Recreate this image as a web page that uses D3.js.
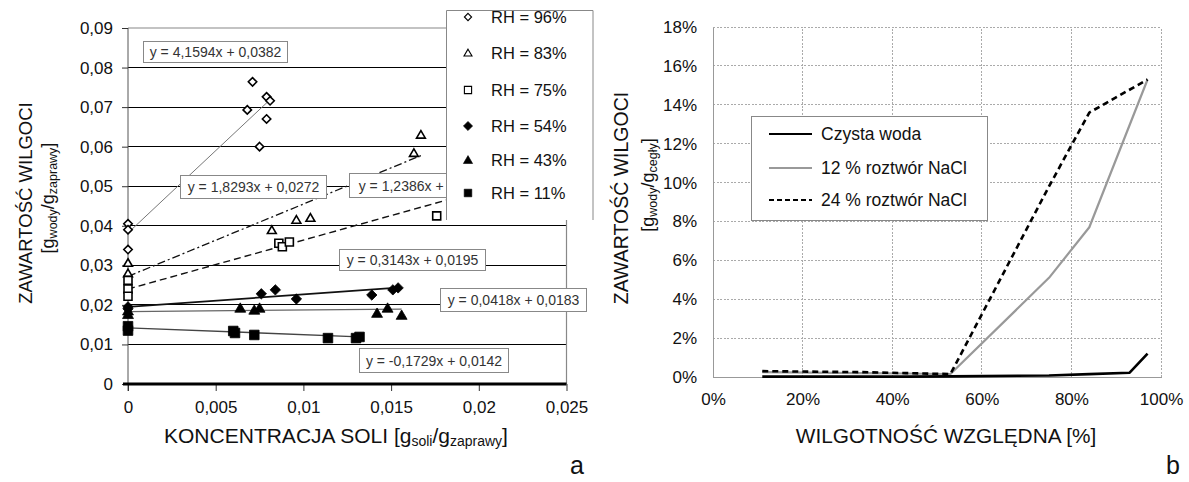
<!DOCTYPE html>
<html>
<head>
<meta charset="utf-8">
<script src="https://cdn.jsdelivr.net/npm/d3@7"></script>
<style>
  body { margin: 0; background: #fff; }
  svg { display: block; font-family: "Liberation Sans", Arial, sans-serif; }
</style>
</head>
<body>
<svg id="chart" width="1189" height="482"></svg>
<script>
// ---------- Panel a: moisture content vs. salt concentration ----------
const seriesNames = ["RH = 96%", "RH = 83%", "RH = 75%", "RH = 54%", "RH = 43%", "RH = 11%"];

// [salt concentration g/g, moisture content g/g]
const rh96 = [[0, 0.0405], [0, 0.0390], [0, 0.0340], [0.0068, 0.0693], [0.0071, 0.0764],
              [0.0075, 0.0600], [0.0079, 0.0726], [0.0079, 0.0670], [0.0081, 0.0716]];
const rh83 = [[0, 0.0306], [0, 0.0280], [0.0082, 0.0389], [0.0096, 0.0415], [0.0104, 0.0420],
              [0.0163, 0.0584], [0.0167, 0.0630]];
const rh75 = [[0, 0.0262], [0, 0.0240], [0, 0.0222], [0.0086, 0.0356], [0.0088, 0.0347],
              [0.0092, 0.0359], [0.0176, 0.0425]];
const rh54 = [[0, 0.0195], [0, 0.0190], [0.0076, 0.0228], [0.0084, 0.0238], [0.0096, 0.0215],
              [0.0139, 0.0225], [0.0151, 0.0238], [0.0154, 0.0243]];
const rh43 = [[0, 0.0185], [0, 0.0176], [0.0064, 0.0192], [0.0072, 0.0187], [0.0075, 0.0192],
              [0.0142, 0.0179], [0.0148, 0.0192], [0.0156, 0.0174]];
const rh11 = [[0, 0.0146], [0, 0.0135], [0.0060, 0.0134], [0.0061, 0.0129], [0.0072, 0.0124],
              [0.0114, 0.0116], [0.0130, 0.0116], [0.0132, 0.0119]];

// linear trend lines y = a*x + b, drawn from x = 0 to trendEnd
const trendSlope     = [4.1594, 1.8293, 1.2386, 0.3143, 0.0418, -0.1729];
const trendIntercept = [0.0382, 0.0272, 0.0240, 0.0195, 0.0183, 0.0142];
const trendEnd       = [0.0081, 0.0167, 0.0190, 0.0154, 0.0156, 0.0132];

const xTicksL = [0, 0.005, 0.01, 0.015, 0.02, 0.025];
const xTickLabelsL = ["0", "0,005", "0,01", "0,015", "0,02", "0,025"];
const yTicksL = [0, 0.01, 0.02, 0.03, 0.04, 0.05, 0.06, 0.07, 0.08, 0.09];
const yTickLabelsL = ["0", "0,01", "0,02", "0,03", "0,04", "0,05", "0,06", "0,07", "0,08", "0,09"];

// ---------- Panel b: moisture content vs. relative humidity ----------
const lineNames = ["Czysta woda", "12 % roztwór NaCl", "24 % roztwór NaCl"];
const wodaRH   = [11, 33, 43, 53, 75, 84, 93, 97];
const wodaMC   = [0.02, 0.02, 0.02, 0.03, 0.08, 0.15, 0.22, 1.2];
const nacl12RH = [11, 33, 43, 53, 75, 84, 97];
const nacl12MC = [0.25, 0.20, 0.18, 0.15, 5.1, 7.7, 15.3];
const nacl24RH = [11, 33, 43, 53, 75, 84, 97];
const nacl24MC = [0.30, 0.25, 0.20, 0.15, 9.8, 13.6, 15.3];

const xTicksR = [0, 20, 40, 60, 80, 100];
const yTicksR = [0, 2, 4, 6, 8, 10, 12, 14, 16, 18];

// ---------- drawing ----------
const svg = d3.select("#chart");
const FONT = "\"Liberation Sans\", Arial, sans-serif";

// custom marker shapes; "size" is used as half-width
const shapes = {
  diamond:  { draw(c, r) { c.moveTo(0, -r); c.lineTo(r, 0); c.lineTo(0, r); c.lineTo(-r, 0); c.closePath(); } },
  triangle: { draw(c, r) { c.moveTo(0, -r); c.lineTo(r * 1.05, r * 0.8); c.lineTo(-r * 1.05, r * 0.8); c.closePath(); } },
  square:   { draw(c, r) { c.rect(-r, -r, 2 * r, 2 * r); } }
};

const markerStyle = [
  { shape: "diamond",  filled: false, r: 4.2, lr: 3.6 },
  { shape: "triangle", filled: false, r: 4.2, lr: 3.8 },
  { shape: "square",   filled: false, r: 4.0, lr: 3.6 },
  { shape: "diamond",  filled: true,  r: 5.2, lr: 4.6 },
  { shape: "triangle", filled: true,  r: 5.2, lr: 4.4 },
  { shape: "square",   filled: true,  r: 4.8, lr: 3.8 }
];
const trendStyle = [
  { stroke: "#777", width: 1.0, dash: null },
  { stroke: "#111", width: 1.3, dash: "8,3,2,3" },
  { stroke: "#111", width: 1.4, dash: "7,4" },
  { stroke: "#111", width: 1.8, dash: null },
  { stroke: "#666", width: 1.3, dash: null },
  { stroke: "#444", width: 1.4, dash: null }
];
const labelBox = [
  { x: 143, y: 41,  w: 144, h: 21 },
  { x: 180, y: 175, w: 146, h: 23 },
  { x: 349, y: 173, w: 150, h: 24 },
  { x: 339, y: 249, w: 146, h: 21 },
  { x: 440, y: 288, w: 146, h: 23 },
  { x: 359, y: 348, w: 149, h: 24 }
];

const seriesL = [rh96, rh83, rh75, rh54, rh43, rh11];

const xL = d3.scaleLinear().domain([0, 0.025]).range([128, 566.5]);
const yL = d3.scaleLinear().domain([0, 0.09]).range([384, 28]);

const gA = svg.append("g");

// horizontal gridlines
gA.append("g").selectAll("line")
  .data(yTicksL.filter(v => v > 0 && v < 0.09))
  .join("line")
  .attr("x1", xL(0)).attr("x2", xL(0.025))
  .attr("y1", d => yL(d)).attr("y2", d => yL(d))
  .attr("stroke", "#000").attr("stroke-width", 1).attr("shape-rendering", "crispEdges");

// plot frame (top and right)
gA.append("path")
  .attr("d", `M${xL(0)},${yL(0.09)}H${xL(0.025)}V${yL(0)}`)
  .attr("fill", "none").attr("stroke", "#888").attr("stroke-width", 1.2);

// axes
const yAxisL = d3.axisLeft(yL).tickValues(yTicksL)
  .tickFormat((d, i) => yTickLabelsL[i]).tickSize(6).tickSizeOuter(0).tickPadding(9);
gA.append("g").attr("transform", `translate(${xL(0)},0)`).call(yAxisL)
  .call(g => g.select(".domain").attr("stroke", "#555").attr("d", `M0,${yL(0.09)}V${yL(0) + 7}`))
  .call(g => g.selectAll(".tick line").attr("stroke", "#333"))
  .call(g => g.selectAll("text").attr("font-size", 17).attr("font-family", FONT).attr("fill", "#111"));

const xAxisL = d3.axisBottom(xL).tickValues(xTicksL)
  .tickFormat((d, i) => xTickLabelsL[i]).tickSize(7).tickSizeOuter(0).tickPadding(10);
gA.append("g").attr("transform", `translate(0,${yL(0)})`).call(xAxisL)
  .call(g => g.select(".domain").remove())
  .call(g => g.selectAll(".tick line").attr("stroke", "#333"))
  .call(g => g.selectAll("text").attr("font-size", 17).attr("font-family", FONT).attr("fill", "#111"));

// thick zero line
gA.append("line")
  .attr("x1", xL(0) - 5).attr("x2", xL(0.025))
  .attr("y1", yL(0)).attr("y2", yL(0))
  .attr("stroke", "#000").attr("stroke-width", 3);

// trend lines
gA.append("g").selectAll("line")
  .data(trendSlope.map((a, i) => ({ a, b: trendIntercept[i], end: trendEnd[i], st: trendStyle[i] })))
  .join("line")
  .attr("x1", xL(0)).attr("y1", d => yL(d.b))
  .attr("x2", d => xL(d.end)).attr("y2", d => yL(d.a * d.end + d.b))
  .attr("stroke", d => d.st.stroke).attr("stroke-width", d => d.st.width)
  .attr("stroke-dasharray", d => d.st.dash);

// data points
const sym = d3.symbol();
seriesL.forEach((pts, i) => {
  const ms = markerStyle[i];
  gA.append("g").selectAll("path")
    .data(pts)
    .join("path")
    .attr("transform", d => `translate(${xL(d[0])},${yL(d[1])})`)
    .attr("d", sym.type(shapes[ms.shape]).size(ms.r)())
    .attr("fill", ms.filled ? "#000" : "#fff")
    .attr("stroke", "#000").attr("stroke-width", ms.filled ? 0.8 : 1.6);
});

// trend equations
const fmt4 = v => v.toFixed(4).replace(".", ",");
trendSlope.forEach((a, i) => {
  const b = labelBox[i];
  const g = gA.append("g");
  g.append("rect").attr("x", b.x + 0.5).attr("y", b.y + 0.5).attr("width", b.w).attr("height", b.h)
    .attr("fill", "#fff").attr("stroke", "#888").attr("stroke-width", 1);
  g.append("text").attr("x", b.x + b.w / 2 + 0.5).attr("y", b.y + b.h / 2 + 5.5)
    .attr("text-anchor", "middle").attr("font-size", 14).attr("fill", "#333")
    .text(`y = ${fmt4(a)}x + ${fmt4(trendIntercept[i])}`);
});

// legend for panel a
const legA = gA.append("g").attr("transform", "translate(446,10)");
legA.append("rect").attr("x", 0).attr("y", 0).attr("width", 147).attr("height", 210).attr("fill", "#fff");
legA.append("path").attr("d", "M0.5,210V0.5H147V210")
  .attr("fill", "none").attr("stroke", "#888").attr("stroke-width", 1);
const legRows = [7, 43, 80, 116, 150, 183];
seriesNames.forEach((name, i) => {
  const ms = markerStyle[i];
  legA.append("path")
    .attr("transform", `translate(22,${legRows[i]})`)
    .attr("d", sym.type(shapes[ms.shape]).size(ms.lr)())
    .attr("fill", ms.filled ? "#000" : "#fff")
    .attr("stroke", "#000").attr("stroke-width", ms.filled ? 0.6 : 1.1);
  legA.append("text").attr("x", 45).attr("y", legRows[i] + 6)
    .attr("font-size", 16.5).attr("fill", "#111").text(name);
});

// axis titles for panel a
gA.append("text").attr("transform", "translate(32,203) rotate(-90)")
  .attr("text-anchor", "middle").attr("font-size", 18.5).attr("fill", "#111")
  .text("ZAWARTOŚĆ WILGOCI");
const tA2 = gA.append("text").attr("transform", "translate(54,198) rotate(-90)")
  .attr("text-anchor", "middle").attr("font-size", 18).attr("fill", "#111");
tA2.append("tspan").text("[g");
tA2.append("tspan").attr("font-size", 12.5).attr("dy", 3).text("wody");
tA2.append("tspan").attr("dy", -3).text("/g");
tA2.append("tspan").attr("font-size", 12.5).attr("dy", 3).text("zaprawy");
tA2.append("tspan").attr("dy", -3).text("]");

const tA3 = gA.append("text").attr("x", 336).attr("y", 443)
  .attr("text-anchor", "middle").attr("font-size", 21).attr("fill", "#111");
tA3.append("tspan").text("KONCENTRACJA SOLI [g");
tA3.append("tspan").attr("font-size", 14).attr("dy", 3).text("soli");
tA3.append("tspan").attr("dy", -3).text("/g");
tA3.append("tspan").attr("font-size", 14).attr("dy", 3).text("zaprawy");
tA3.append("tspan").attr("dy", -3).text("]");

gA.append("text").attr("x", 577).attr("y", 474).attr("text-anchor", "middle")
  .attr("font-size", 25).attr("fill", "#111").text("a");

// ---------- panel b ----------
const xR = d3.scaleLinear().domain([0, 100]).range([713, 1161]);
const yR = d3.scaleLinear().domain([0, 18]).range([377, 27]);
const gB = svg.append("g");

// dotted gridlines
gB.append("g").selectAll("line")
  .data(yTicksR.filter(v => v > 0))
  .join("line")
  .attr("x1", xR(0)).attr("x2", xR(100))
  .attr("y1", d => yR(d)).attr("y2", d => yR(d))
  .attr("stroke", "#aaa").attr("stroke-width", 1).attr("stroke-dasharray", "2,1.5")
  .attr("shape-rendering", "crispEdges");
gB.append("g").selectAll("line")
  .data(xTicksR.filter(v => v > 0))
  .join("line")
  .attr("x1", d => xR(d)).attr("x2", d => xR(d))
  .attr("y1", yR(0)).attr("y2", yR(18))
  .attr("stroke", "#aaa").attr("stroke-width", 1).attr("stroke-dasharray", "2,1.5")
  .attr("shape-rendering", "crispEdges");

const yAxisR = d3.axisLeft(yR).tickValues(yTicksR).tickFormat(d => d + "%")
  .tickSize(0).tickSizeOuter(0).tickPadding(16);
gB.append("g").attr("transform", `translate(${xR(0)},0)`).call(yAxisR)
  .call(g => g.select(".domain").attr("stroke", "#999").attr("shape-rendering", "crispEdges"))
  .call(g => g.selectAll("text").attr("font-size", 17).attr("font-family", FONT).attr("fill", "#111"));
const xAxisR = d3.axisBottom(xR).tickValues(xTicksR).tickFormat(d => d + "%")
  .tickSize(0).tickSizeOuter(0).tickPadding(16);
gB.append("g").attr("transform", `translate(0,${yR(0)})`).call(xAxisR)
  .call(g => g.select(".domain").attr("stroke", "#999").attr("shape-rendering", "crispEdges"))
  .call(g => g.selectAll("text").attr("font-size", 17).attr("font-family", FONT).attr("fill", "#111"));

const lineStyle = [
  { stroke: "#000", width: 2.6, dash: null },
  { stroke: "#999", width: 2.2, dash: null },
  { stroke: "#000", width: 2.6, dash: "6,4" }
];
const linesR = [
  d3.zip(wodaRH, wodaMC),
  d3.zip(nacl12RH, nacl12MC),
  d3.zip(nacl24RH, nacl24MC)
];
const lineGen = d3.line().x(d => xR(d[0])).y(d => yR(d[1]));
[1, 2, 0].forEach(i => {
  gB.append("path").datum(linesR[i])
    .attr("d", lineGen)
    .attr("fill", "none").attr("stroke", lineStyle[i].stroke)
    .attr("stroke-width", lineStyle[i].width).attr("stroke-dasharray", lineStyle[i].dash)
    .attr("stroke-linejoin", "round");
});

// legend for panel b
const legB = gB.append("g").attr("transform", "translate(751,116)");
legB.append("rect").attr("x", 0.5).attr("y", 0.5).attr("width", 236).attr("height", 104)
  .attr("fill", "#fff").attr("stroke", "#888").attr("stroke-width", 1);
const legRowsB = [18, 52, 84];
lineNames.forEach((name, i) => {
  legB.append("line").attr("x1", 18).attr("x2", 61).attr("y1", legRowsB[i]).attr("y2", legRowsB[i])
    .attr("stroke", lineStyle[i].stroke).attr("stroke-width", i === 1 ? 2 : 2.2)
    .attr("stroke-dasharray", i === 2 ? "5,3" : null);
  legB.append("text").attr("x", 70).attr("y", legRowsB[i] + 6)
    .attr("font-size", 17.5).attr("fill", "#111").text(name);
});

// axis titles for panel b
gB.append("text").attr("transform", "translate(628,198) rotate(-90)")
  .attr("text-anchor", "middle").attr("font-size", 19.5).attr("fill", "#111")
  .text("ZAWARTOŚĆ WILGOCI");
const tB2 = gB.append("text").attr("transform", "translate(654,185) rotate(-90)")
  .attr("text-anchor", "middle").attr("font-size", 18).attr("fill", "#111");
tB2.append("tspan").text("[g");
tB2.append("tspan").attr("font-size", 12.5).attr("dy", 3).text("wody");
tB2.append("tspan").attr("dy", -3).text("/g");
tB2.append("tspan").attr("font-size", 12.5).attr("dy", 3).text("cegły");
tB2.append("tspan").attr("dy", -3).text("]");

gB.append("text").attr("x", 946).attr("y", 443).attr("text-anchor", "middle")
  .attr("font-size", 20.8).attr("fill", "#111").text("WILGOTNOŚĆ WZGLĘDNA [%]");

gB.append("text").attr("x", 1173).attr("y", 474).attr("text-anchor", "middle")
  .attr("font-size", 25).attr("fill", "#111").text("b");
</script>
</body>
</html>
